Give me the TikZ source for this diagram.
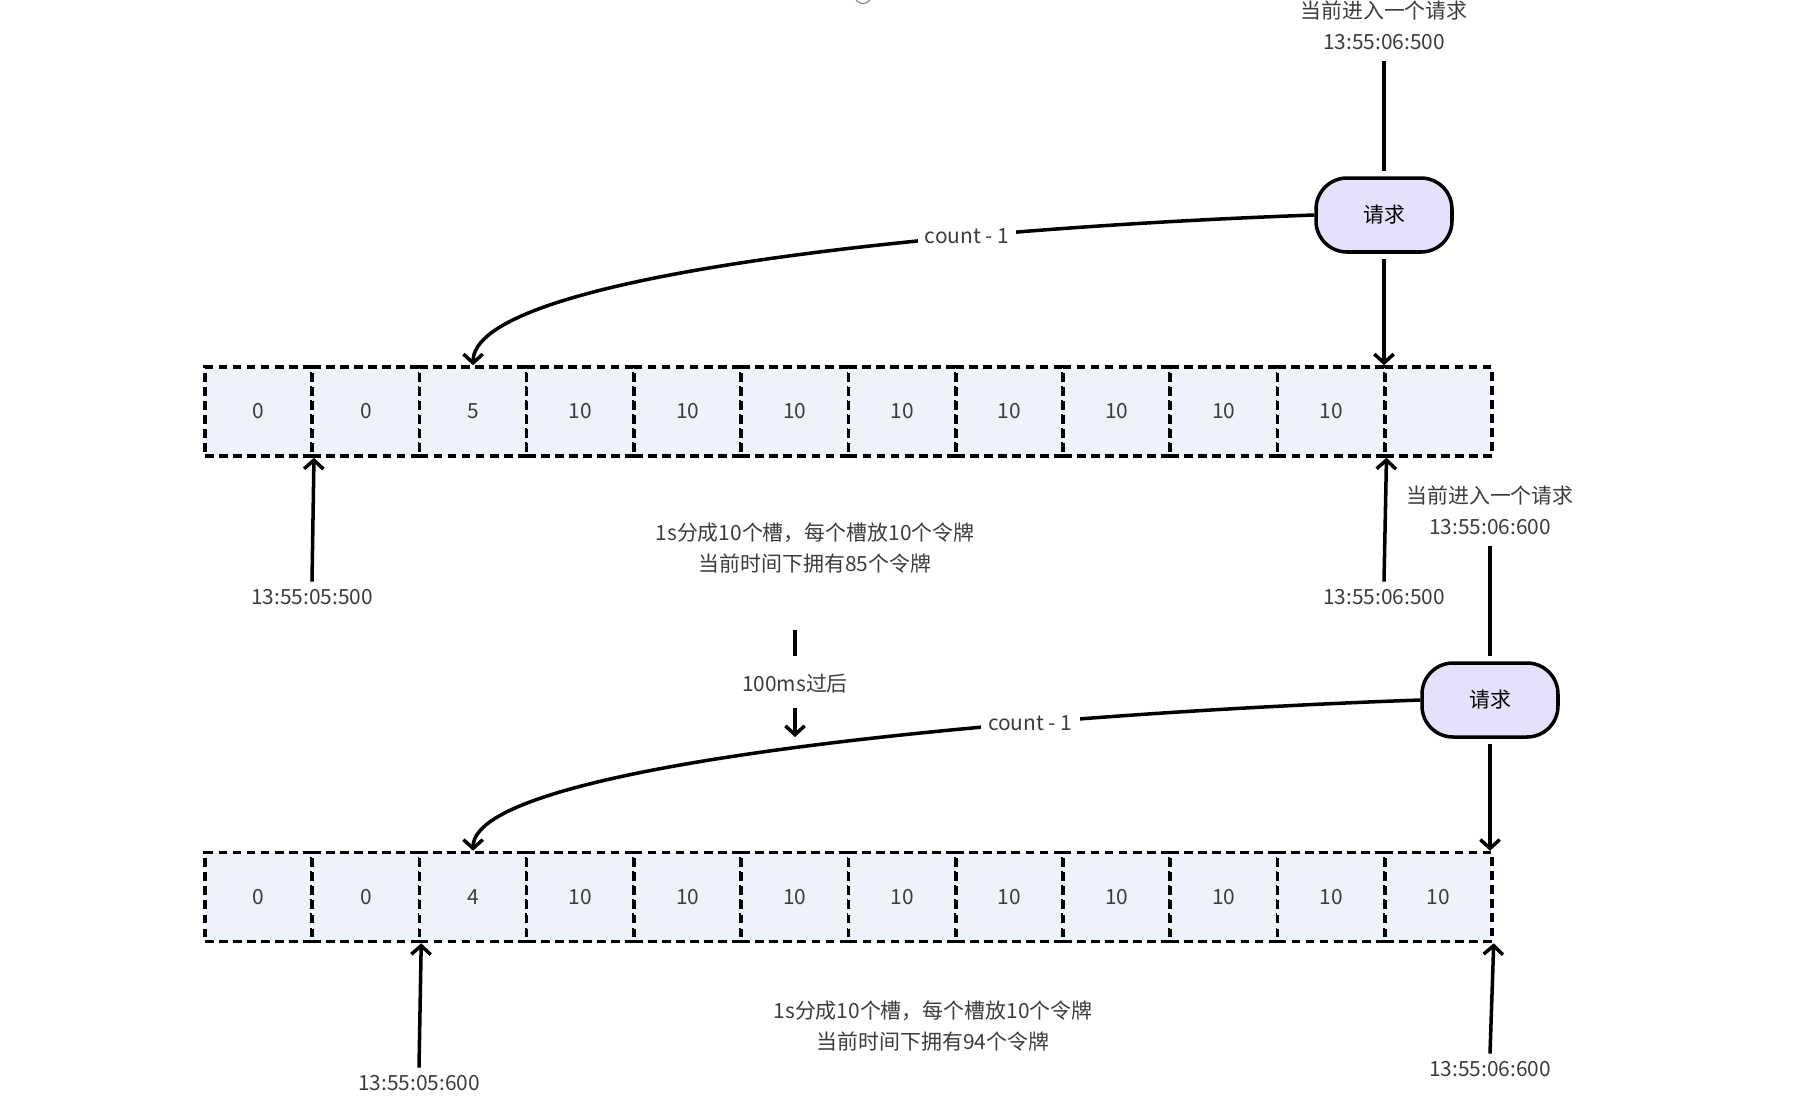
\documentclass[tikz,border=0pt]{standalone}
\usepackage{fontspec}
\newfontfamily\cjk{Noto Sans CJK SC}
\usetikzlibrary{arrows.meta,calc,positioning}
\definecolor{ink}{HTML}{3C3C3C}
\definecolor{slot}{HTML}{EEF2FB}
\definecolor{req}{HTML}{E7E0FA}

\begin{document}
\begin{tikzpicture}[x=0.02cm,y=-0.02cm,line width=2pt,
  every node/.style={font=\cjk\fontsize{11.9}{17.6}\selectfont,text=ink},
  cell/.style={draw,dash pattern=on 5pt off 3pt,fill=slot,minimum width=2.145cm,minimum height=1.78cm,inner sep=0pt},
  reqbox/.style={draw,fill=req,rounded corners=0.62cm,minimum width=2.72cm,minimum height=1.48cm,text=black},
  tip/.style={-{Straight Barb[length=5pt,width=11pt]}},
  lbl/.style={fill=white,inner sep=4pt}]
\useasboundingbox (0,0) rectangle (1806,1100);
\draw[gray,line width=0.6pt] (863,-5) circle[radius=0.17cm];
% two rows of slots
\foreach \v [count=\i] in {0,0,5,10,10,10,10,10,10,10,10,{}} \node[cell] (a\i) at ({258.6+(\i-1)*107.25},411.5) {\v};
\foreach \v [count=\i] in {0,0,4,10,10,10,10,10,10,10,10,10} \node[cell] (b\i) at ({258.6+(\i-1)*107.25},897) {\v};
% first request
\node[align=center] (in1) at (1384,25) {当前进入一个请求\\13:55:06:500};
\node[reqbox] (r1) at (1384,215) {请求};
\draw[shorten <=2pt,shorten >=3pt] (in1.south) -- (r1.north);
\draw[tip,shorten <=3pt] (r1.south) -- (r1.south |- a11.north);
\draw[tip] (r1.west) .. controls (900,230) and (473,280) .. (a3.north) node[lbl,pos=0.285] {count - 1};
\node (t1) at (312,597) {13:55:05:500}; \draw[tip] (t1.north) -- (a1.south east);
\node (t2) at (1384,597) {13:55:06:500}; \draw[tip] (t2.north) -- (a11.south east);
\node[align=center] (n1) at (815,548) {1s分成10个槽，每个槽放10个令牌\\当前时间下拥有85个令牌};
% 100ms later
\node (ms) at (795,684) {100ms过后};
\coordinate (ms0) at (795,630); \coordinate (ms1) at (795,737);
\draw[shorten >=6pt] (ms0) -- (ms.north); \draw[tip,shorten <=4pt] (ms.south) -- (ms1);
% second request
\node[align=center] (in2) at (1490,510) {当前进入一个请求\\13:55:06:600};
\node[reqbox] (r2) at (1490,700) {请求};
\draw[shorten <=2pt,shorten >=3pt] (in2.south) -- (r2.north);
\draw[tip,shorten <=3pt] (r2.south) -- (r2.south |- b12.north);
\draw[tip] (r2.west) .. controls (1000,715) and (473,765) .. (b3.north) node[lbl,pos=0.3] {count - 1};
\node (t3) at (419,1083) {13:55:05:600}; \draw[tip] (t3.north) -- (b2.south east);
\node (t4) at (1490,1069) {13:55:06:600}; \draw[tip] (t4.north) -- (b12.south east);
\node[align=center] (n2) at (933,1026) {1s分成10个槽，每个槽放10个令牌\\当前时间下拥有94个令牌};
\end{tikzpicture}
\end{document}
